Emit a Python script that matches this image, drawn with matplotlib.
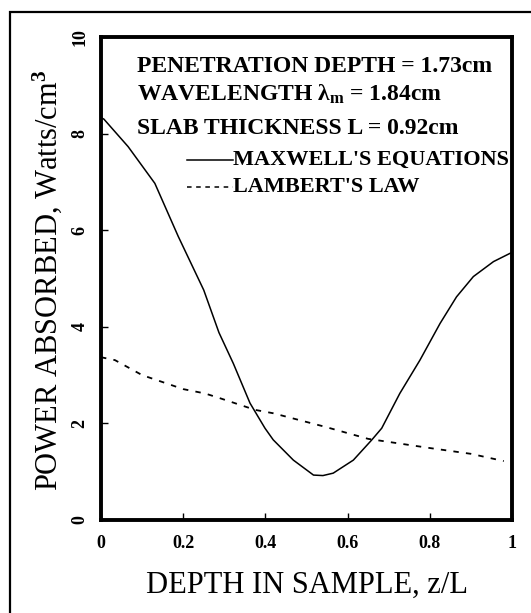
import matplotlib
matplotlib.use("Agg")
import matplotlib.pyplot as plt
from matplotlib.patches import Rectangle

# values
depth = [0.0, 0.007, 0.066, 0.131, 0.188, 0.25, 0.287, 0.322, 0.3625, 0.399,
         0.419, 0.468, 0.517, 0.54, 0.565, 0.614, 0.659, 0.683, 0.727, 0.776,
         0.825, 0.865, 0.906, 0.955, 0.995, 1.0]
maxwell = [8.33, 8.30, 7.73, 6.97, 5.87, 4.76, 3.88, 3.24, 2.42, 1.90,
           1.66, 1.24, 0.93, 0.92, 0.97, 1.24, 1.66, 1.90, 2.62, 3.31,
           4.07, 4.62, 5.04, 5.35, 5.52, 5.54]
lam_x = [0.0, 0.034, 0.1, 0.2, 0.253, 0.29, 0.375, 0.419, 0.545, 0.65, 0.8, 0.9, 0.98]
lambert = [3.37, 3.31, 3.0, 2.71, 2.62, 2.52, 2.28, 2.21, 1.93, 1.68, 1.49, 1.37, 1.22]

xticks = [0, 0.2, 0.4, 0.6, 0.8, 1]
xtick_labels = ["0", "0.2", "0.4", "0.6", "0.8", "1"]
yticks = [0, 2, 4, 6, 8, 10]

info_lines = ["PENETRATION DEPTH = 1.73cm",
              r"WAVELENGTH $\lambda_{\rm m}$ = 1.84cm",
              "SLAB THICKNESS L = 0.92cm"]

plt.rcParams["font.family"] = ["Liberation Serif", "DejaVu Serif"]
plt.rcParams["mathtext.fontset"] = "custom"
plt.rcParams["mathtext.rm"] = "Liberation Serif:bold"
plt.rcParams["mathtext.it"] = "Liberation Serif:bold"

W, H = 531, 613
fig = plt.figure(figsize=(W / 100, H / 100), dpi=100)
# frame around the whole figure
fig.patches.append(Rectangle((10 / W, -0.05), 1.0, 1 - 12 / H + 0.05,
                             transform=fig.transFigure, fill=False,
                             lw=1.6, ec="black", clip_on=False))

ax = fig.add_axes([101 / W, 1 - 520 / H, 411 / W, 483 / H])
ax.plot(depth, maxwell, color="black", lw=1.1)
ax.plot(lam_x, lambert, color="black", lw=1.3, ls=(0, (3, 4)))

ax.set_xlim(0, 1)
ax.set_ylim(0, 10)
ax.set_xticks(xticks)
ax.set_xticklabels(xtick_labels, fontweight="bold", fontsize=13)
ax.set_yticks(yticks)
ax.set_yticklabels([str(v) for v in yticks], fontweight="bold", fontsize=13,
                   rotation=90, va="center")
ax.tick_params(direction="in", length=5, width=1.0)
ax.tick_params(axis="x", pad=11)
ax.tick_params(axis="y", pad=9)
for s in ax.spines.values():
    s.set_linewidth(2.8)

ax.set_xlabel("DEPTH IN SAMPLE, z/L", fontsize=22, va="center")
ax.xaxis.set_label_coords(0.5, (520 - 585) / 483)
ax.set_ylabel(r"POWER ABSORBED, Watts/cm$^{\rm 3}$", fontsize=22, va="center")
ax.yaxis.set_label_coords((47 - 101) / 411, (520 - 280) / 483)

ys = [67, 94, 128]
for txt, y in zip(info_lines, ys):
    fig.text(137 / W, 1 - y / H, txt, fontsize=17, fontweight="bold",
             va="center", ha="left")

# hand drawn legend
leg_y = [160, 187]
leg_txt = ["MAXWELL'S EQUATIONS", "LAMBERT'S LAW"]
leg_ls = ["-", (0, (3, 3))]
for y, t, ls in zip(leg_y, leg_txt, leg_ls):
    yy = 1 - y / H
    fig.lines.append(plt.Line2D([187 / W, 233 / W], [yy, yy], color="black",
                                lw=1.1, ls=ls, transform=fig.transFigure))
    fig.text(233 / W, yy, t, fontsize=16, fontweight="bold", va="center", ha="left")

fig.savefig("out.png", dpi=100)
